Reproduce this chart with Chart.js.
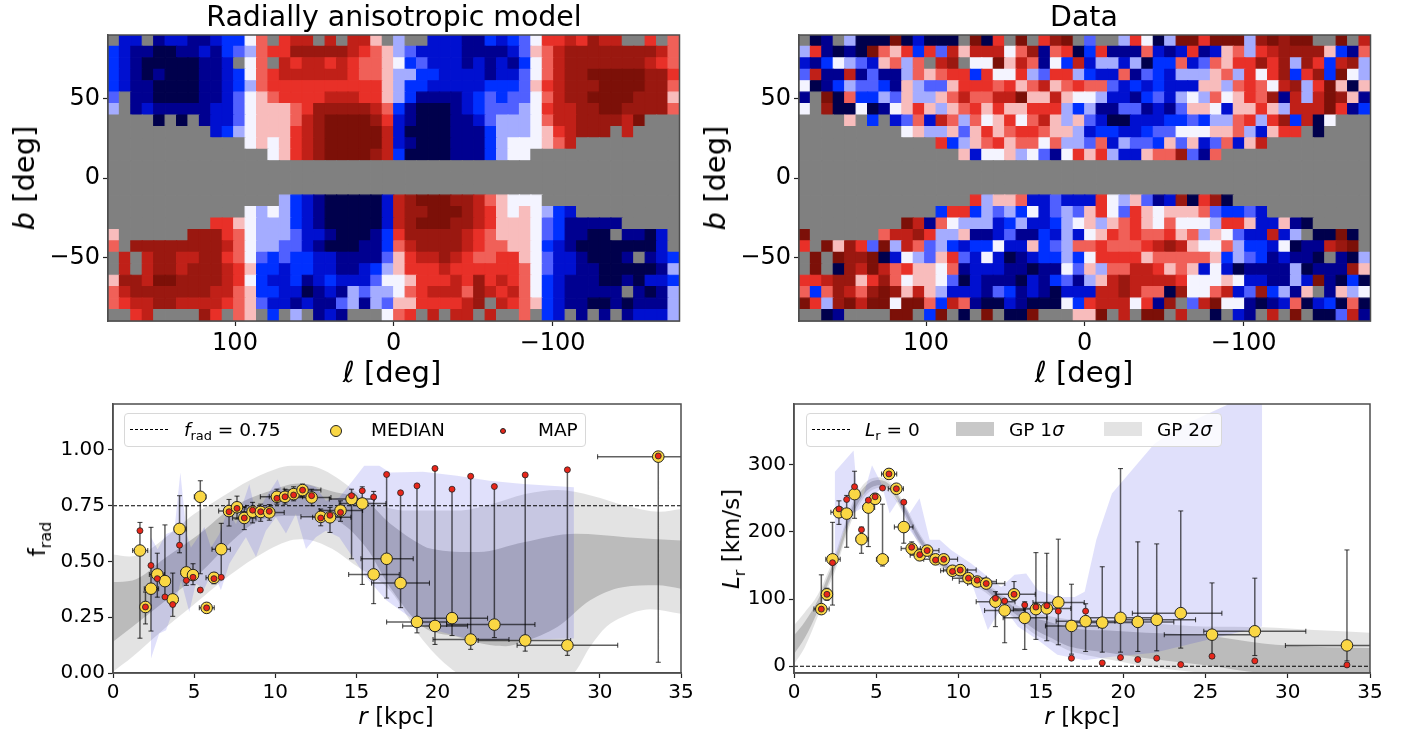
<!DOCTYPE html>
<html>
<head>
<meta charset="utf-8">
<title>Radially anisotropic model vs data</title>
<script src="https://cdn.jsdelivr.net/npm/chart.js@4"></script>
<style>
    html, body { margin: 0; padding: 0; background: #fff; }
    body { position: relative; width: 1411px; height: 731px; overflow: hidden; font-family: "DejaVu Sans", sans-serif; color: #000; }
    canvas { position: absolute; filter: blur(0.35px); }
    .lbl { position: absolute; white-space: nowrap; transform: translate(-50%, -50%); }
    .rot { transform: translate(-50%, -50%) rotate(-90deg); }
    .lbl sub, .leg sub { font-size: 70%; line-height: 0; }
    .box { position: absolute; top: 413px; height: 34px; box-sizing: border-box; border: 1px solid #d8d8d8; border-radius: 4px; background: rgba(255,255,255,0.8); }
    .leg { position: absolute; top: 429px; font-size: 18.5px; white-space: nowrap; transform: translateY(-50%); }
    .dash { position: absolute; top: 429px; width: 38px; border-top: 1.3px dashed #000; }
    .swatch { position: absolute; top: 422px; width: 38px; height: 14px; }
    .dot { position: absolute; border-radius: 50%; box-sizing: border-box; border: 1px solid #222; }
</style>
</head>
<body>
<canvas id="modelMap" style="left:0;top:0" width="700" height="395"></canvas>
<canvas id="dataMap" style="left:700px;top:0" width="700" height="395"></canvas>
<canvas id="fradChart" style="left:0;top:380px" width="700" height="351"></canvas>
<canvas id="lrChart" style="left:700px;top:380px" width="700" height="351"></canvas>

<div class="lbl" style="left:394px;top:16px;font-size:28.4px">Radially anisotropic model</div>
<div class="lbl" style="left:1084px;top:16px;font-size:28.4px">Data</div>
<div class="lbl rot" style="left:24px;top:178px;font-size:29px"><i>b</i> [deg]</div>
<div class="lbl rot" style="left:715px;top:178px;font-size:29px"><i>b</i> [deg]</div>
<div class="lbl" style="left:392px;top:372px;font-size:29px"><i>ℓ</i> [deg]</div>
<div class="lbl" style="left:1084px;top:372px;font-size:29px"><i>ℓ</i> [deg]</div>
<div class="lbl rot" style="left:37px;top:539px;font-size:23px">f<sub>rad</sub></div>
<div class="lbl rot" style="left:731px;top:539px;font-size:23px"><i>L</i><sub>r</sub> [km/s]</div>
<div class="lbl" style="left:396px;top:716px;font-size:23px"><i>r</i> [kpc]</div>
<div class="lbl" style="left:1082px;top:716px;font-size:23px"><i>r</i> [kpc]</div>

<div class="box" style="left:124px;width:462px"></div>
<div class="dash" style="left:130px"></div>
<div class="leg" style="left:184px"><i>f</i><sub>rad</sub> = 0.75</div>
<div class="dot" style="left:330px;top:425px;width:12px;height:12px;background:#fad744"></div>
<div class="leg" style="left:371px">MEDIAN</div>
<div class="dot" style="left:500px;top:428px;width:6px;height:6px;background:#e8261a"></div>
<div class="leg" style="left:538px">MAP</div>

<div class="box" style="left:806px;width:416px"></div>
<div class="dash" style="left:812px"></div>
<div class="leg" style="left:865px"><i>L</i><sub>r</sub> = 0</div>
<div class="swatch" style="left:956px;background:#c8c8c8"></div>
<div class="leg" style="left:1009px">GP 1<i>σ</i></div>
<div class="swatch" style="left:1104px;background:#e3e3e3"></div>
<div class="leg" style="left:1157px">GP 2<i>σ</i></div>

<script>
// heatmap levels, one char per cell, '.' is a masked cell
const levelChars = '0123456789abc';
const levelColors = ['#00004c', '#000090', '#0010d0', '#0030ff', '#5060ff', '#a4acff', '#f4f4ff',
    '#f8bcbc', '#f06058', '#e83028', '#c02018', '#9a1810', '#7c1008'];
const maskColor = '#808080';

const modelRows = [
    '.22.122112 3368.9aa.a .aa7.5..22 2113234699 a9baa..9.8',
    '3211001121 345899bbbb ba98754222 211112478a bbbbbbbba8',
    '3210000011 2.68.a9aa9 a988763422 212121368a bbbbbbba98',
    '3210100011 23689aaaaa a988755332 222122468a bbcccccbb9',
    '3211000011 2358999999 9999753322 222333479a bbbccccbb8',
    '4.11000011 246789999a aa99753111 123434468a bbccccbbb7',
    '5.12111112 24677789bb bbba831000 123444569a abbccbbbb8',
    '....0.0.12 2467778abc cccb921000 112455568a abbbbac...',
    '.........2 3567779abc cccca20000 1113555679 abbb.a....',
    '.......... ..67679abc cccca21000 1113566678 a.........',
    '.......... ....679abc cccba30000 1113566... ..........',
    '.......... .......... .......... .......... ..........',
    '.......... .......... .......... .......... ..........',
    '.......... .......... .......... .......... ..........',
    '.......... .....53210 00002abccc bba87666.. ..........',
    '.......... ..65653210 00002abbcc cba9767653 2.........',
    '.........9 9765553210 00002abccc bba9777643 11111.....',
    '7......bbb 9865554221 000139bbbb ba98777643 1100.1102.',
    '8.bbbbbbbb a865544210 001138abbb ba98877632 100000002.',
    '.a.abbaabb 9864343322 1111479aab a988997642 210001.123',
    '.a.abbabbb a973323322 112357999a 9999998642 2110000015',
    '7bbaccbbbb a963223123 2224667999 a9b9a98632 1110010223',
    '8abbbbbbba a873322012 15455689aa a8ba9a8632 11111.1015',
    '89aabbaaaa 9874221211 4515477999 9ab.a98732 1100101115',
    '..9a....b9 .87.3.5.12 1...689.a. aa.a..8.32 .1.1.12225'
];

const dataRows = [
    '.01.5000c0 2000.c09.c .9bc.4..59 605cc9ccc5 bcbcc..c.a',
    '591010c879 394a7aaa68 b189039111 8212912785 9abbbb7318',
    '2136542785 8.ab.66c7a 8163a25525 0338248799 b9b5b93ab5',
    '4a11a14115 8789939669 5499532281 4325557859 69b39b3c65',
    '6013544317 5447999897 8a78988423 2322277589 86ab59c707',
    '1.c0833547 5578a88aac 77a7665221 3425658679 8b1a5acb71',
    '6.b0060167 9757897977 9995351144 1214776277 975aaac913',
    '....7.3.24 82a8586796 8a75742002 2233435589 59b3a06...',
    '.........6 7557479789 9877523322 3446667785 2799.0....',
    '.......... ..93578978 8685548254 4374724827 a.........',
    '.......... ....726675 6416979522 788b418... ..........',
    '.......... .......... .......... .......... ..........',
    '.......... .......... .......... .......... ..........',
    '.......... .......... .......... .......... ..........',
    '.......... .....95778 2242229657 412b09b0.. ..........',
    '.......... ..39935453 6245479649 7677784334 2.........',
    '.........c a186555235 2235675789 7686665997 22710.....',
    'c......8aa b955711241 1325267989 8897857642 2a25.00c0.',
    '9.c7b94c5a 8453233622 7345889888 9aba766853 326011abc.',
    '.c.cbbc026 5479426201 2335369999 7888887354 312110.105',
    '.c.0baca89 7768122211 011647588a a978726201 11150111b7',
    '99abb79b86 7764021110 2134157aba aaa9666762 21152c1030',
    '838ba8bcb7 a752221431 210222aaba 880b668a24 b3517.1756',
    'c95bcacc6c c83a810021 000639aaa6 91b.4ac661 0128023080',
    '..01....cc .3c.0.c.00 c...77c.a. cc.a..0.21 .a.c.004a1'
];

const mapLonTicks = [100, 0, -100];
const mapLatTicks = [50, 0, -50];
const radiusTicks = [0, 5, 10, 15, 20, 25, 30, 35];
const fradTicks = [0, 0.25, 0.5, 0.75, 1];
const lrTicks = [0, 100, 200, 300];

// binned measurements, shared radius bins
const rad = [1.66, 2.0, 2.34, 2.73, 3.2, 3.68, 4.1, 4.52, 4.93, 5.38, 5.77, 6.22, 6.67, 7.15, 7.64, 8.09, 8.6, 9.1, 9.63, 10.1,
    10.6, 11.13, 11.68, 12.24, 12.8, 13.37, 14.02, 14.7, 15.36, 16.06, 16.86, 17.72, 18.73, 19.84, 20.89, 22.04, 23.5, 25.4, 28.0, 33.6];
const radLo = [1.21, 1.72, 1.93, 2.24, 2.96, 3.37, 3.78, 4.19, 4.66, 5.01, 5.32, 5.73, 6.1, 6.51, 7.06, 7.37, 7.88, 8.4, 8.91, 9.08,
    9.63, 10.04, 10.55, 11.07, 11.58, 12.3, 12.71, 13.33, 13.94, 14.52, 15.28, 15.93, 16.86, 17.85, 18.7, 19.72, 20.56, 22.5, 24.9, 29.86];
const radHi = [2.14, 2.34, 2.81, 3.16, 3.51, 3.98, 4.5, 4.9, 5.2, 5.73, 6.24, 6.65, 7.23, 7.68, 8.19, 8.81, 9.32, 9.94, 10.55, 11.07,
    11.68, 12.3, 12.81, 13.43, 14.05, 14.66, 15.38, 16.1, 16.82, 17.64, 18.5, 19.5, 20.56, 21.85, 23.08, 24.4, 26.0, 28.2, 31.1, 37];

const fradMedian = [0.549, 0.296, 0.378, 0.442, 0.412, 0.33, 0.646, 0.451, 0.439, 0.79, 0.292, 0.427, 0.555, 0.726, 0.743, 0.695, 0.723, 0.722, 0.72, 0.79,
    0.79, 0.802, 0.82, 0.787, 0.7, 0.698, 0.728, 0.78, 0.76, 0.442, 0.512, 0.403, 0.229, 0.211, 0.246, 0.15, 0.217, 0.146, 0.124, 0.97];
const fradMap = [0.638, 0.296, 0.482, 0.423, 0.341, 0.307, 0.573, 0.415, 0.429, 0.372, 0.292, 0.423, 0.429, 0.723, 0.738, 0.695, 0.73, 0.723, 0.725, 0.783,
    0.79, 0.798, 0.82, 0.795, 0.695, 0.707, 0.72, 0.795, 0.817, 0.789, 0.89, 0.808, 0.839, 0.917, 0.824, 0.882, 0.836, 0.888, 0.911, 0.973];
const fradLow = [0.156, 0.22, 0.188, 0.34, 0.34, 0.254, 0.539, 0.393, 0.396, 0.445, 0.27, 0.4, 0.43, 0.659, 0.69, 0.643, 0.673, 0.68, 0.685, 0.757,
    0.757, 0.772, 0.79, 0.75, 0.66, 0.63, 0.68, 0.512, 0.397, 0.311, 0.336, 0.293, 0.18, 0.128, 0.168, 0.106, 0.159, 0.098, 0.079, 0.048];
const fradHigh = [0.675, 0.363, 0.653, 0.537, 0.664, 0.448, 0.795, 0.75, 0.49, 0.862, 0.31, 0.448, 0.671, 0.778, 0.793, 0.745, 0.765, 0.757, 0.755, 0.824,
    0.824, 0.835, 0.847, 0.824, 0.735, 0.742, 0.772, 0.824, 0.835, 0.814, 0.89, 0.808, 0.839, 0.917, 0.824, 0.882, 0.836, 0.888, 0.911, 0.973];

const lrMedian = [85, 107, 159, 229, 227, 256, 189, 236, 249, 159, 286, 264, 207, 175, 165, 172, 159, 159, 142, 143,
    131, 126, 123, 96, 83, 107, 72, 85, 86, 95, 60, 67, 65, 72, 66, 69, 79, 47, 52, 31];
const lrMap = [85, 107, 154, 234, 248, 267, 203, 247, 252, 265, 286, 264, 244, 177, 166, 172, 158, 159, 141, 143,
    131, 128, 123, 101, 97, 107, 91, 88, 90, 82, 12, 82, 5, 13, 10, 12, 2.5, 15, 8, 2];
const lrLow = [79, 98, 91, 211, 177, 220, 168, 178, 242, 149, 279, 258, 183, 167, 158, 165, 152, 152, 135, 136,
    124, 119, 116, 59, 35, 98, 25, 40, 38, 32, 18, 22, 21, 21, 22, 23, 27, 12, 16, 8];
const lrHigh = [136, 116, 214, 246, 254, 290, 207, 247, 257, 241, 293, 269, 244, 185, 172, 179, 166, 166, 149, 150,
    138, 133, 130, 111, 97, 126, 96, 169, 168, 189, 122, 93, 148, 294, 185, 182, 231, 124, 131, 173];

// GP and percentile bands of the f_rad panel
const frad2UpR = [0, 1, 2, 3, 4, 5, 6, 7, 8, 9, 10, 11, 12, 13, 14, 15, 16, 17, 18, 20.2, 21.2, 23.3, 25.4, 27.4, 29.5, 31.6, 33.7, 35];
const frad2Up = [0.531, 0.522, 0.542, 0.594, 0.653, 0.713, 0.757, 0.802, 0.847, 0.884, 0.914, 0.929, 0.929, 0.909, 0.865, 0.81, 0.765, 0.74, 0.728, 0.728, 0.728, 0.757, 0.802, 0.82, 0.795, 0.75, 0.723, 0.735];
const frad2LoR = [0, 1.2, 3.3, 5.3, 6.65, 8.8, 10.9, 11.7, 13.5, 14.8, 17.07, 19.1, 21.2, 24.5, 28.4, 29.4, 30.4, 31.4, 33.1, 35];
const frad2Lo = [0.006, 0.073, 0.207, 0.326, 0.408, 0.519, 0.594, 0.6, 0.557, 0.49, 0.37, 0.147, 0, -0.1, 0, 0.118, 0.207, 0.251, 0.286, 0.266];
const frad1UpR = [0, 1.2, 3.27, 5.32, 7.37, 9.42, 11.48, 13.53, 15.58, 17.07, 19.1, 19.6, 22.5, 25.3, 28.5, 31.6, 35];
const frad1Up = [0.408, 0.415, 0.519, 0.623, 0.743, 0.81, 0.85, 0.814, 0.772, 0.67, 0.571, 0.557, 0.542, 0.586, 0.624, 0.609, 0.594];
const frad1LoR = [0, 1.2, 3.27, 5.32, 7.37, 8.8, 11, 13.5, 15.58, 17.07, 19.1, 21.2, 23.2, 24.2, 25.3, 27.4, 29.4, 31.4, 33.5, 35];
const frad1Lo = [0.14, 0.207, 0.326, 0.445, 0.594, 0.676, 0.705, 0.69, 0.564, 0.385, 0.207, 0.162, 0.125, 0.12, 0.14, 0.207, 0.326, 0.385, 0.393, 0.378];
const fradBlueUpR = [2.34, 2.75, 3.27, 3.78, 4.15, 4.54, 4.8, 5.1, 5.63, 6.04, 6.55, 7.06, 7.58, 8.4, 8.81, 9.42, 10.14, 10.66, 11.27, 11.89, 12.5, 13.12, 13.94, 14.76, 15.48, 16.41, 17.07, 19.1, 21.2, 23.2, 25.3, 28.4];
const fradBlueUp = [0.609, 0.555, 0.623, 0.638, 0.899, 0.623, 0.563, 0.594, 0.654, 0.563, 0.623, 0.73, 0.668, 0.847, 0.713, 0.787, 0.869, 0.772, 0.787, 0.847, 0.833, 0.772, 0.787, 0.862, 0.929, 0.929, 0.899, 0.902, 0.884, 0.862, 0.847, 0.833];
const fradBlueLoR = [2.34, 2.85, 3.27, 3.78, 4.19, 4.7, 5.1, 5.63, 6.14, 6.65, 7.17, 7.68, 8.19, 8.81, 9.42, 10.04, 10.66, 11.27, 11.89, 12.5, 13.12, 13.94, 14.76, 15.58, 16.82, 18.3, 19.9, 22.0, 23.2, 28.4];
const fradBlueLo = [0.065, 0.177, 0.192, 0.295, 0.415, 0.274, 0.4, 0.378, 0.46, 0.371, 0.49, 0.55, 0.609, 0.52, 0.638, 0.698, 0.625, 0.713, 0.556, 0.609, 0.638, 0.609, 0.52, 0.43, 0.327, 0.25, 0.19, 0.15, 0.147, 0.155];

// same bands for the L_r panel
const lrGpR = [0, 0.65, 1.46, 2.06, 2.47, 3.48, 4.29, 5.2, 5.91, 6.72, 7.53, 8.34, 9.55, 10.57, 11.58, 12.59, 13.6, 14.6, 15.63, 16.64, 17.36, 19.4, 21.4, 24.9, 28.5, 31.6, 35];
const lr2Up = [61, 80, 107, 140, 164, 239, 272, 281, 272, 241, 202, 172, 149, 134, 125, 107, 90, 80, 74, 70, 68, 66, 64, 59, 58, 54, 50];
const lr1Up = [46, 66, 99, 134, 158, 233, 267, 277, 268, 237, 198, 169, 146, 131, 122, 103, 84, 72, 65, 58, 55, 53, 50, 46, 34, 29, 27];
const lr1Lo = [18, 42, 83, 122, 146, 221, 257, 269, 260, 228, 189, 162, 140, 125, 115, 93, 75, 55, 42, 30, 26, 19, 12, 2, -10, -12, -15];
const lr2Lo = [3, 28, 75, 116, 140, 215, 252, 265, 256, 223, 184, 158, 137, 122, 111, 89, 68, 48, 36, 24, 19, 9, 0, -10, -16, -24, -30];
const lrBlueUpR = [2.47, 3.62, 3.79, 4.19, 4.74, 5.3, 5.81, 6.42, 7.02, 7.63, 8.24, 8.85, 9.55, 10.77, 11.78, 12.59, 13.4, 14.11, 14.82, 16.03, 17.06, 17.66, 18.37, 19.32, 21.9, 23.43, 26.27, 28.45];
const lrBlueUp = [289, 321, 272, 252, 299, 272, 227, 250, 227, 250, 188, 188, 173, 153, 133, 118, 136, 138, 113, 103, 103, 111, 188, 257, 331, 356, 388, 450];
const lrBlueLoR = [2.47, 2.98, 3.62, 4.29, 4.74, 5.2, 5.7, 6.42, 7.02, 7.63, 8.24, 8.85, 9.55, 10.77, 11.78, 12.4, 13, 13.6, 14.82, 16, 17.66, 19.32, 21.9, 24.9, 28.45];
const lrBlueLo = [154, 198, 228, 238, 252, 262, 262, 242, 203, 183, 163, 153, 138, 126, 54, 79, 79, 59, 39, 17, 9, 14, 20, 38, 59];

const axisColor = '#4d4d4d';
const gp2Color = 'rgba(128,128,128,0.22)';
const gp1Color = 'rgba(128,128,128,0.4)';
const blueColor = 'rgba(0,0,225,0.12)';

// top and right spines, chart.js only draws the left and bottom ones
const framePlugin = {
    id: 'frame',
    afterDraw(chart) {
        const { ctx, chartArea: a } = chart;
        ctx.save();
        ctx.strokeStyle = axisColor;
        ctx.lineWidth = 1.5;
        ctx.strokeRect(a.left, a.top, a.right - a.left, a.bottom - a.top);
        ctx.restore();
    }
};

function pts(xs, ys) {
    return xs.map((x, i) => ({ x: x, y: ys[i] }));
}

function makeAxis(min, max, ticks, fontSize, boxSize, format, reverse) {
    return {
        type: 'linear', min: min, max: max, reverse: !!reverse,
        grid: { drawOnChartArea: false, drawTicks: true, tickLength: 5, tickColor: '#222', tickWidth: 1.2 },
        border: { color: axisColor, width: 1.5 },
        ticks: {
            autoSkip: false, maxRotation: 0, minRotation: 0, padding: 3, color: '#000',
            font: { family: '"DejaVu Sans"', size: fontSize },
            callback: format
        },
        afterBuildTicks(scale) { scale.ticks = ticks.map(v => ({ value: v })); },
        afterFit(scale) {
            if (scale.isHorizontal()) scale.height = boxSize;
            else scale.width = boxSize;
        }
    };
}

function baseOptions(padding, xAxis, yAxis) {
    return {
        responsive: false,
        animation: false,
        events: [],
        layout: { autoPadding: false, padding: padding },
        plugins: { legend: { display: false }, tooltip: { enabled: false }, title: { display: false } },
        scales: { x: xAxis, y: yAxis }
    };
}

function signed(v) {
    return v < 0 ? '\u2212' + Math.abs(v) : String(v);
}

function drawMap(id, rows, leftWidth) {
    const cells = [];
    const fills = [];
    rows.forEach((row, j) => {
        row.replace(/ /g, '').split('').forEach((c, i) => {
            cells.push({ x: 180 - 7.2 * (i + 0.5), y: 90 - 7.2 * (j + 0.5) });
            fills.push(c === '.' ? maskColor : levelColors[levelChars.indexOf(c)]);
        });
    });
    new Chart(document.getElementById(id), {
        type: 'scatter',
        data: {
            datasets: [{
                data: cells,
                pointStyle: 'rect',
                pointRadius: 8.08,
                pointBorderWidth: 1.2,
                pointBackgroundColor: fills,
                pointBorderColor: fills
            }]
        },
        options: baseOptions({ top: 35, right: 700 - leftWidth - 571.5, left: 0, bottom: 0 },
            makeAxis(-180, 180, mapLonTicks, 24, 74, signed, true),
            makeAxis(-90, 90, mapLatTicks, 24, leftWidth, signed)),
        plugins: [framePlugin]
    });
}

function band(upX, upY, loX, loY, color, order, smooth) {
    const mode = smooth ? 'monotone' : 'default';
    return [
        { data: pts(upX, upY), showLine: true, borderWidth: 0, pointRadius: 0, fill: '+1', backgroundColor: color, order: order, cubicInterpolationMode: mode },
        { data: pts(loX, loY), showLine: true, borderWidth: 0, pointRadius: 0, fill: false, order: order, cubicInterpolationMode: mode }
    ];
}

// whisker lines are broken with an empty point after every segment
function whiskers(getSegment, capRotation) {
    const data = [];
    rad.forEach((r, i) => {
        const s = getSegment(i);
        data.push(s[0], s[1], { x: s[0].x, y: null });
    });
    return {
        data: data, showLine: true, spanGaps: false,
        borderColor: 'rgba(0,0,0,0.62)', borderWidth: 1.5,
        pointStyle: 'line', pointRotation: capRotation, pointRadius: 2.5,
        pointBorderColor: 'rgba(0,0,0,0.7)', pointBorderWidth: 1.1,
        fill: false, order: 3
    };
}

function drawProfile(id, opts) {
    const datasets = [
        ...opts.bands,
        {
            data: [{ x: 0, y: opts.refValue }, { x: 35, y: opts.refValue }], showLine: true,
            borderColor: '#000', borderWidth: 1.1, borderDash: [4, 2], pointRadius: 0, fill: false, order: 4
        },
        whiskers(i => [{ x: rad[i], y: opts.low[i] }, { x: rad[i], y: opts.high[i] }], 0),
        whiskers(i => [{ x: radLo[i], y: opts.median[i] }, { x: radHi[i], y: opts.median[i] }], 90),
        {
            data: pts(rad, opts.median), pointRadius: 5.8, pointBorderWidth: 1,
            pointBackgroundColor: '#fad744', pointBorderColor: '#222', order: 2
        },
        {
            data: pts(rad, opts.map), pointRadius: 3, pointBorderWidth: 0.8,
            pointBackgroundColor: '#e8261a', pointBorderColor: '#222', order: 1
        }
    ];
    new Chart(document.getElementById(id), {
        type: 'scatter',
        data: { datasets: datasets },
        options: baseOptions({ top: 24, right: opts.right, left: 0, bottom: 0 },
            makeAxis(0, 35, radiusTicks, 20, 58, v => String(v)),
            makeAxis(opts.yMin, opts.yMax, opts.yTicks, 20, opts.left, opts.yFormat)),
        plugins: [framePlugin]
    });
}

drawMap('modelMap', modelRows, 108);
drawMap('dataMap', dataRows, 99);

drawProfile('fradChart', {
    left: 113, right: 19, yMin: 0, yMax: 1.206, yTicks: fradTicks, refValue: 0.75,
    yFormat: v => v.toFixed(2),
    median: fradMedian, map: fradMap, low: fradLow, high: fradHigh,
    bands: [
        ...band(frad2UpR, frad2Up, frad2LoR, frad2Lo, gp2Color, 8, true),
        ...band(frad1UpR, frad1Up, frad1LoR, frad1Lo, gp1Color, 7, true),
        ...band(fradBlueUpR, fradBlueUp, fradBlueLoR, fradBlueLo, blueColor, 6, false)
    ]
});

drawProfile('lrChart', {
    left: 94, right: 30, yMin: -10, yMax: 390, yTicks: lrTicks, refValue: 0,
    yFormat: v => String(v),
    median: lrMedian, map: lrMap, low: lrLow, high: lrHigh,
    bands: [
        ...band(lrGpR, lr2Up, lrGpR, lr2Lo, gp2Color, 8, true),
        ...band(lrGpR, lr1Up, lrGpR, lr1Lo, gp1Color, 7, true),
        ...band(lrBlueUpR, lrBlueUp, lrBlueLoR, lrBlueLo, blueColor, 6, false)
    ]
});
</script>
</body>
</html>
